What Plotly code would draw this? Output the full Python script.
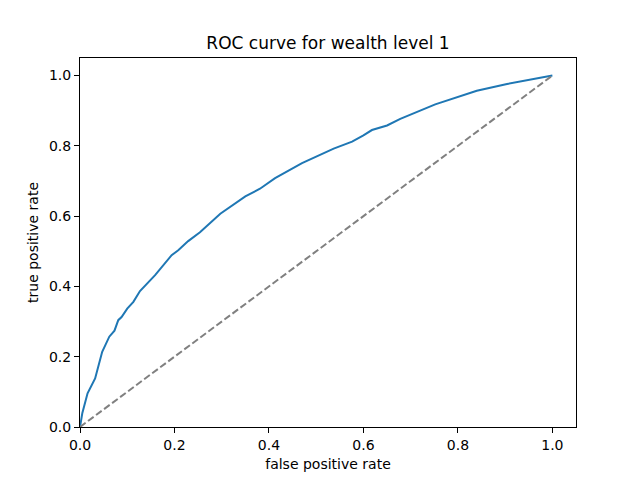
import plotly.graph_objects as go

fpr = [0, 0.005, 0.016, 0.032, 0.047, 0.062, 0.073, 0.081, 0.088, 0.100, 0.113, 0.127,
       0.159, 0.177, 0.194, 0.208, 0.229, 0.254, 0.297, 0.350, 0.381, 0.413, 0.470,
       0.537, 0.576, 0.600, 0.618, 0.650, 0.678, 0.752, 0.800, 0.840, 0.904, 0.960, 1.0]
tpr = [0, 0.04, 0.096, 0.138, 0.214, 0.257, 0.274, 0.304, 0.313, 0.337, 0.356, 0.387,
       0.432, 0.460, 0.489, 0.503, 0.529, 0.554, 0.607, 0.656, 0.678, 0.708, 0.751,
       0.792, 0.812, 0.830, 0.845, 0.858, 0.877, 0.918, 0.939, 0.957, 0.976, 0.990, 1.0]
diag = [0, 1]

fig = go.Figure()
fig.add_trace(go.Scatter(x=fpr, y=tpr, mode="lines",
                         line=dict(color="#1f77b4", width=2), showlegend=False))
fig.add_trace(go.Scatter(x=diag, y=diag, mode="lines",
                         line=dict(color="gray", width=2, dash="7px,3px"), showlegend=False))

axis_common = dict(showline=True, linecolor="black", linewidth=1, mirror=True,
                   ticks="outside", ticklen=5, tickcolor="black", showgrid=False,
                   zeroline=False, tickfont=dict(family="DejaVu Sans", size=14, color="black"))

fig.update_layout(
    width=640, height=480,
    margin=dict(l=72, r=72, t=50, b=61),
    paper_bgcolor="white", plot_bgcolor="white",
    title=dict(text="ROC curve for wealth level 1", x=0.5, xanchor="center",
               y=1 - 35 / 480, yanchor="middle",
               font=dict(family="DejaVu Sans", size=17, color="black")),
    xaxis=dict(range=[0, 1.05], tickvals=[0, 0.2, 0.4, 0.6, 0.8, 1.0],
               ticktext=["0.0", "0.2", "0.4", "0.6", "0.8", "1.0"],
               title=dict(text="false positive rate", standoff=7,
                          font=dict(family="DejaVu Sans", size=14, color="black")),
               **axis_common),
    yaxis=dict(range=[0, 1.05], tickvals=[0, 0.2, 0.4, 0.6, 0.8, 1.0],
               ticktext=["0.0", "0.2", "0.4", "0.6", "0.8", "1.0"],
               title=dict(text="true positive rate", standoff=7,
                          font=dict(family="DejaVu Sans", size=14, color="black")),
               **axis_common),
)

fig.write_html("out.html")
